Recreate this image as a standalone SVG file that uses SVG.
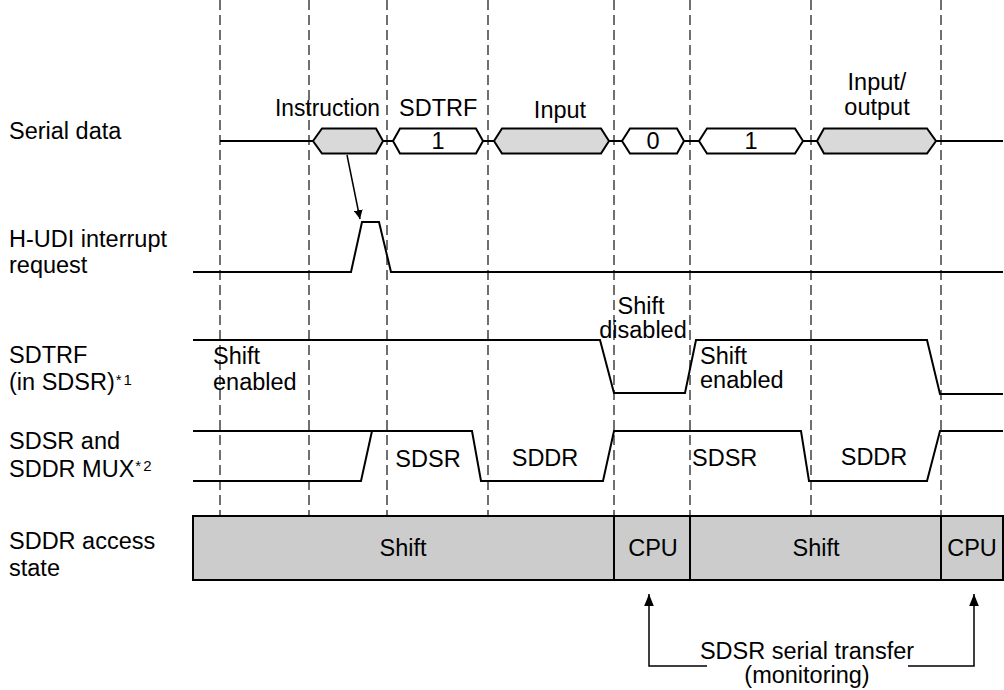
<svg xmlns="http://www.w3.org/2000/svg" width="1004" height="690" viewBox="0 0 1004 690">
<style>
text{font-family:"Liberation Sans",Arial,sans-serif;font-size:23.5px;fill:#000}
.sup{font-size:15px;letter-spacing:2px}
.mid{text-anchor:middle}
.grid{stroke:#111;stroke-width:1.2;stroke-dasharray:10,5;fill:none}
.wave{stroke:#000;stroke-width:2;fill:none}
.hexg{fill:#d9d9d9;stroke:#000;stroke-width:2}
.hexw{fill:#fff;stroke:#000;stroke-width:2}
.box{fill:#cccccc;stroke:#000;stroke-width:2}
.conn{stroke:#000;stroke-width:1.5;fill:none}
</style>
<defs>
<marker id="ah" viewBox="0 0 10 10" refX="10" refY="5" markerWidth="9" markerHeight="9" markerUnits="userSpaceOnUse" orient="auto">
<path d="M0,0 L10,5 L0,10 z" fill="#000"/>
</marker>
<marker id="ah2" viewBox="0 0 10 10" refX="10" refY="5" markerWidth="12" markerHeight="12" markerUnits="userSpaceOnUse" orient="auto">
<path d="M0,1 L10,5 L0,9 z" fill="#000"/>
</marker>
</defs>

<g id="grid">
<line class="grid" x1="220" y1="0" x2="220" y2="516"/>
<line class="grid" x1="309" y1="0" x2="309" y2="516"/>
<line class="grid" x1="387" y1="0" x2="387" y2="516"/>
<line class="grid" x1="488" y1="0" x2="488" y2="516"/>
<line class="grid" x1="614" y1="0" x2="614" y2="516"/>
<line class="grid" x1="690" y1="0" x2="690" y2="516"/>
<line class="grid" x1="811" y1="0" x2="811" y2="516"/>
<line class="grid" x1="941" y1="0" x2="941" y2="516"/>
</g>

<g id="labels">
<text x="9" y="139">Serial data</text>
<text x="9" y="247">H-UDI interrupt</text>
<text x="9" y="273">request</text>
<text x="9" y="363">SDTRF</text>
<text x="9" y="390">(in SDSR)<tspan class="sup" dx="1" dy="-5">*1</tspan></text>
<text x="9" y="449">SDSR and</text>
<text x="9" y="477">SDDR MUX<tspan class="sup" dx="1" dy="-6">*2</tspan></text>
<text x="9" y="549">SDDR access</text>
<text x="9" y="576">state</text>
</g>

<g id="serial-data">
<line class="wave" x1="220" y1="141" x2="1003" y2="141"/>
<polygon class="hexg" points="313,141 322,128.5 376,128.5 383,141 376,153.5 322,153.5"/>
<polygon class="hexw" points="393,141 400,128.5 476,128.5 483,141 476,153.5 400,153.5"/>
<polygon class="hexg" points="494,141 502,128.5 601,128.5 609,141 601,153.5 502,153.5"/>
<polygon class="hexw" points="622,141 630,128.5 677,128.5 684,141 677,153.5 630,153.5"/>
<polygon class="hexw" points="699,141 707,128.5 795,128.5 803,141 795,153.5 707,153.5"/>
<polygon class="hexg" points="817,141 824,128.5 927,128.5 936,141 927,153.5 824,153.5"/>
<text x="275" y="116" textLength="105" lengthAdjust="spacingAndGlyphs">Instruction</text>
<text x="399" y="116">SDTRF</text>
<text class="mid" x="438" y="149">1</text>
<text class="mid" x="560" y="118">Input</text>
<text class="mid" x="653" y="149">0</text>
<text class="mid" x="751" y="149">1</text>
<text class="mid" x="877" y="90">Input/</text>
<text class="mid" x="877" y="115">output</text>
</g>

<g id="hudi">
<polyline class="wave" points="193,272 351,272 362,222 379,222 391,272 1003,272"/>
</g>

<g id="sdtrf">
<polyline class="wave" points="193,340 600,340 614,393 685,393 696,340 927,340 940,394 1003,394"/>
<text x="213" y="364">Shift</text>
<text x="213" y="390">enabled</text>
<text class="mid" x="641" y="314">Shift</text>
<text class="mid" x="643" y="338">disabled</text>
<text x="700" y="364">Shift</text>
<text x="700" y="388">enabled</text>
</g>

<g id="mux">
<polyline class="wave" points="193,431 472,431 481,481 603,481 614,431 801,431 809,481 927,481 940,431 1003,431"/>
<polyline class="wave" points="193,481 361,481 372,431"/>
<text class="mid" x="428" y="467">SDSR</text>
<text class="mid" x="545" y="466">SDDR</text>
<text x="692" y="466">SDSR</text>
<text class="mid" x="874" y="465">SDDR</text>
</g>

<g id="access-state">
<rect class="box" x="193" y="516" width="810" height="64"/>
<line class="wave" x1="614" y1="516" x2="614" y2="580"/>
<line class="wave" x1="690" y1="516" x2="690" y2="580"/>
<line class="wave" x1="941" y1="516" x2="941" y2="580"/>
<text class="mid" x="403" y="556">Shift</text>
<text class="mid" x="653" y="556">CPU</text>
<text class="mid" x="816" y="556">Shift</text>
<text class="mid" x="972" y="556">CPU</text>
</g>

<g id="connectors">
<line class="conn" x1="347" y1="155" x2="360" y2="219" marker-end="url(#ah)"/>
<polyline class="conn" points="707,666 649,666 649,594" marker-end="url(#ah2)"/>
<polyline class="conn" points="908,666 974,666 974,594" marker-end="url(#ah2)"/>
</g>

<g id="transfer-label">
<text class="mid" x="807" y="659">SDSR serial transfer</text>
<text class="mid" x="807" y="683">(monitoring)</text>
</g>
</svg>
